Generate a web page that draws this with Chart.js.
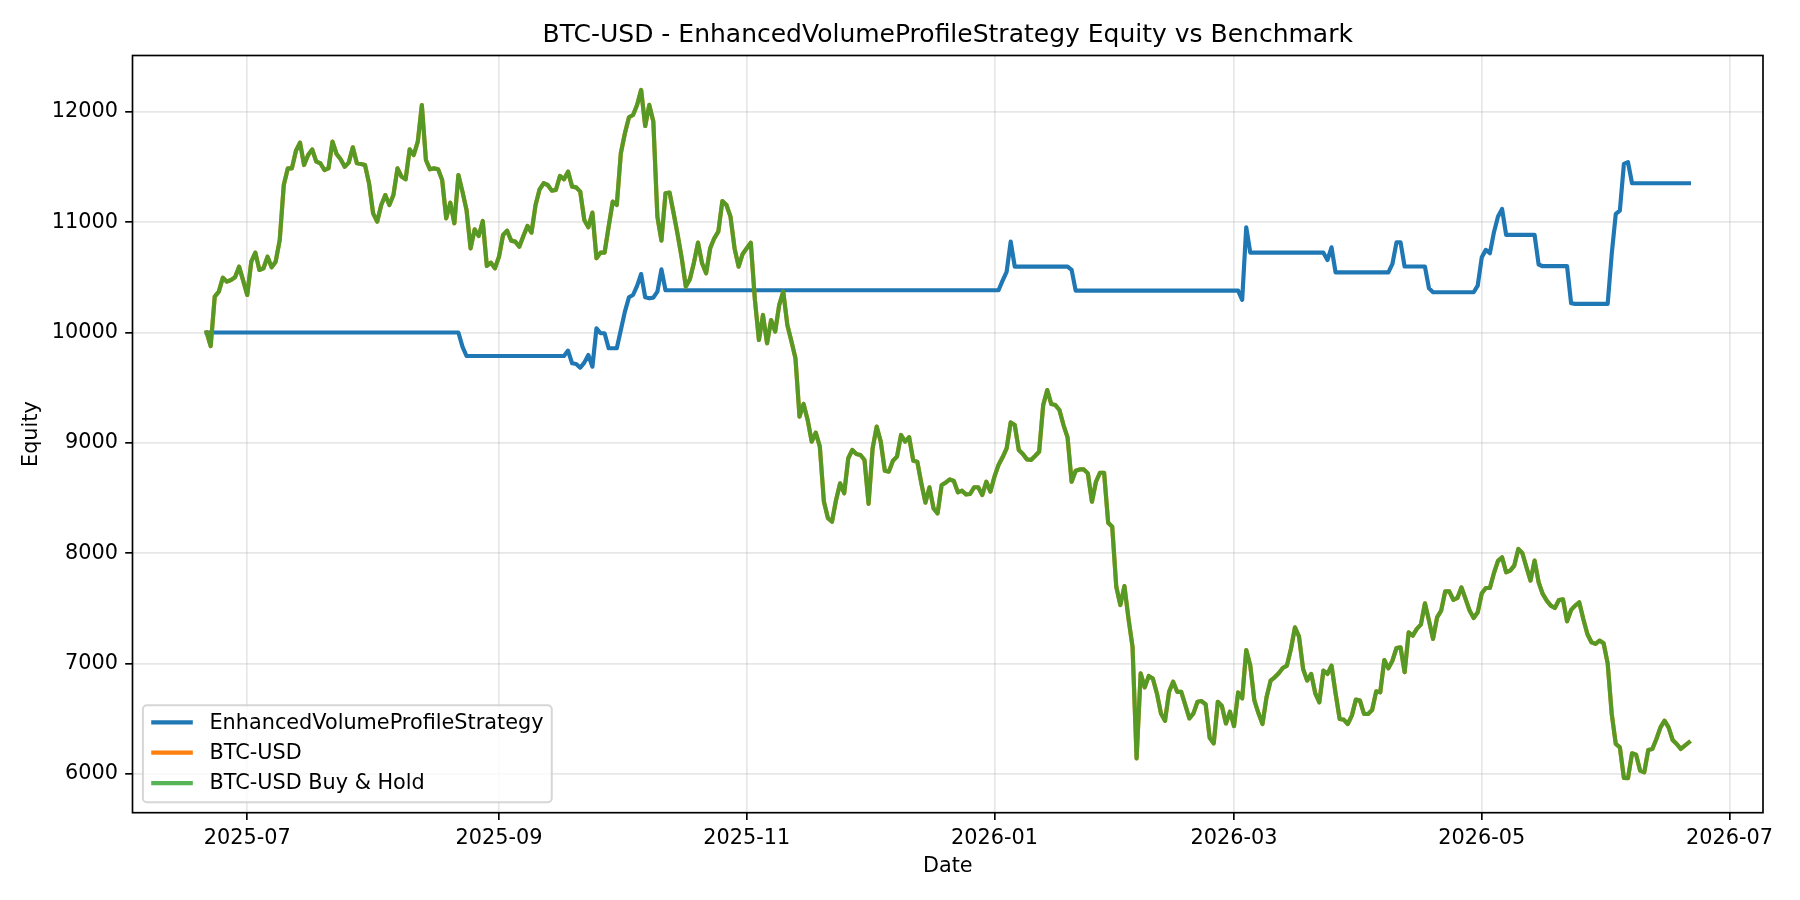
<!DOCTYPE html>
<html>
<head>
<meta charset="utf-8">
<script src="https://cdn.jsdelivr.net/npm/chart.js@4.4.1/dist/chart.umd.min.js"></script>
<style>
  html, body { margin: 0; padding: 0; background: #ffffff; overflow: hidden; }
  canvas { display: block; }
</style>
</head>
<body>
<canvas id="chart" width="1800" height="900"></canvas>
<script>
// ---------------- DATA (daily, first day = startDate) ----------------
const startDate = '2025-06-21';

const seriesNames = ['EnhancedVolumeProfileStrategy', 'BTC-USD', 'BTC-USD Buy & Hold'];

const strategyEquity = [
  10000,10000,10000,10000,10000,10000,10000,10000,10000,10000,
  10000,10000,10000,10000,10000,10000,10000,10000,10000,10000,
  10000,10000,10000,10000,10000,10000,10000,10000,10000,10000,
  10000,10000,10000,10000,10000,10000,10000,10000,10000,10000,
  10000,10000,10000,10000,10000,10000,10000,10000,10000,10000,
  10000,10000,10000,10000,10000,10000,10000,10000,10000,10000,
  10000,10000,10000,9872,9787,9787,9787,9787,9787,9787,
  9787,9787,9787,9787,9787,9787,9787,9787,9787,9787,
  9787,9787,9787,9787,9787,9787,9787,9787,9787,9836,
  9721,9715,9681,9727,9796,9690,10038,9993,9993,9857,
  9857,9857,10023,10189,10319,10340,10422,10530,10319,10310,
  10316,10370,10573,10383,10383,10383,10383,10383,10383,10383,
  10383,10383,10383,10383,10383,10383,10383,10383,10383,10383,
  10383,10383,10383,10383,10383,10383,10383,10383,10383,10383,
  10383,10383,10383,10383,10383,10383,10383,10383,10383,10383,
  10383,10383,10383,10383,10383,10383,10383,10383,10383,10383,
  10383,10383,10383,10383,10383,10383,10383,10383,10383,10383,
  10383,10383,10383,10383,10383,10383,10383,10383,10383,10383,
  10383,10383,10383,10383,10383,10383,10383,10383,10383,10383,
  10383,10383,10383,10383,10383,10383,10470,10550,10824,10597,
  10597,10597,10597,10597,10597,10597,10597,10597,10597,10597,
  10597,10597,10597,10567,10380,10380,10380,10380,10380,10380,
  10380,10380,10380,10380,10380,10380,10380,10380,10380,10380,
  10380,10380,10380,10380,10380,10380,10380,10380,10380,10380,
  10380,10380,10380,10380,10380,10380,10380,10380,10380,10380,
  10380,10380,10380,10380,10380,10295,10954,10724,10724,10724,
  10724,10724,10724,10724,10724,10724,10724,10724,10724,10724,
  10724,10724,10724,10724,10724,10724,10657,10772,10545,10545,
  10545,10545,10545,10545,10545,10545,10545,10545,10545,10545,
  10545,10545,10622,10818,10818,10598,10598,10598,10598,10598,
  10598,10401,10365,10365,10365,10365,10365,10365,10365,10365,
  10365,10365,10365,10425,10682,10749,10719,10909,11051,11120,
  10885,10885,10885,10885,10885,10885,10885,10885,10616,10601,
  10601,10601,10601,10601,10601,10601,10265,10259,10259,10259,
  10259,10259,10259,10259,10259,10259,10713,11075,11105,11528,
  11544,11353,11353,11353,11353,11353,11353,11353,11353,11353,
  11353,11353,11353,11353,11353,11353
];

const buyHoldEquity = [
  10000,9877,10325,10370,10497,10461,10476,10500,10597,10470,
  10340,10642,10724,10567,10582,10687,10591,10642,10838,11337,
  11488,11488,11648,11721,11518,11609,11660,11549,11534,11473,
  11488,11730,11618,11570,11503,11540,11679,11534,11528,11518,
  11352,11080,11005,11156,11246,11156,11246,11488,11413,11388,
  11660,11609,11730,12062,11564,11479,11488,11479,11382,11035,
  11177,10990,11428,11277,11111,10763,10935,10875,11011,10603,
  10633,10582,10688,10884,10923,10833,10824,10778,10875,10966,
  10905,11156,11298,11353,11337,11286,11292,11419,11389,11458,
  11322,11316,11277,11020,10954,11087,10673,10724,10724,10960,
  11186,11156,11625,11806,11951,11972,12063,12199,11872,12063,
  11912,11050,10833,11262,11268,11081,10884,10673,10416,10482,
  10633,10815,10627,10537,10763,10854,10914,11192,11156,11050,
  10763,10597,10712,10763,10815,10300,9932,10159,9902,10113,
  10008,10250,10370,10068,9920,9766,9237,9352,9207,9011,
  9092,8965,8467,8316,8285,8482,8633,8542,8860,8935,
  8899,8890,8844,8446,8950,9147,9011,8748,8739,8838,
  8875,9071,9011,9050,8838,8829,8633,8458,8597,8406,
  8361,8618,8639,8669,8654,8551,8566,8533,8536,8597,
  8597,8527,8648,8557,8693,8799,8869,8950,9185,9161,
  8934,8898,8850,8844,8880,8919,9342,9478,9351,9342,
  9297,9161,9049,8647,8747,8759,8759,8723,8466,8647,
  8729,8729,8276,8239,7695,7529,7701,7408,7151,6139,
  6910,6783,6886,6864,6728,6547,6480,6743,6834,6743,
  6743,6623,6502,6547,6653,6659,6629,6327,6275,6653,
  6614,6456,6562,6432,6737,6683,7121,6980,6665,6550,
  6451,6693,6844,6874,6911,6959,6980,7131,7328,7243,
  6950,6844,6905,6729,6648,6935,6905,6980,6729,6497,
  6491,6451,6527,6672,6663,6542,6542,6578,6747,6738,
  7031,6956,7025,7140,7146,6920,7282,7252,7313,7352,
  7545,7388,7222,7418,7479,7654,7654,7576,7594,7690,
  7585,7479,7412,7464,7636,7684,7684,7820,7930,7962,
  7826,7841,7887,8038,7999,7872,7751,7932,7736,7630,
  7569,7524,7503,7575,7581,7382,7485,7524,7554,7403,
  7267,7192,7177,7207,7183,7001,6542,6270,6240,5962,
  5959,6185,6173,6028,6013,6216,6225,6315,6421,6481,
  6421,6306,6270,6225,6255,6285
];

// BTC-USD benchmark coincides exactly with the buy & hold curve in the picture
const btcUsdEquity = buyHoldEquity.slice();

const xTickLabels = ['2025-07', '2025-09', '2025-11', '2026-01', '2026-03', '2026-05', '2026-07'];
const yTickValues = [6000, 7000, 8000, 9000, 10000, 11000, 12000];

// ---------------- helpers ----------------
const DAY = 86400000;
const t0 = Date.parse(startDate + 'T00:00:00Z');
const xTickDays = xTickLabels.map(m => (Date.parse(m + '-01T00:00:00Z') - t0) / DAY);
const toPoints = arr => arr.map((v, i) => ({ x: i, y: v }));

const nDays = buyHoldEquity.length - 1;
const xMin = -0.05 * nDays, xMax = nDays * 1.05;
const allVals = strategyEquity.concat(buyHoldEquity, btcUsdEquity);
const dMin = Math.min(...allVals), dMax = Math.max(...allVals);
const yMin = dMin - 0.05 * (dMax - dMin), yMax = dMax + 0.05 * (dMax - dMin);

const FONT = "'DejaVu Sans', 'Liberation Sans', sans-serif";
const FS = 20.8;
const LW = 4.17;

Chart.defaults.font.family = FONT;
Chart.defaults.color = '#000000';

const framePlugin = {
  id: 'mplFrame',
  afterDatasetsDraw(chart) {
    const { ctx, chartArea: a } = chart;
    ctx.save();
    ctx.strokeStyle = '#000000';
    ctx.lineWidth = 1.67;
    ctx.strokeRect(a.left, a.top, a.right - a.left, a.bottom - a.top);
    ctx.restore();
  },
  afterDraw(chart) {
    const { ctx, chartArea: a } = chart;
    const items = chart.data.datasets.map(ds => ({ text: ds.label, color: ds.borderColor, w: ds.borderWidth }));
    ctx.save();
    ctx.font = FS + 'px ' + FONT;
    const maxW = Math.max(...items.map(it => ctx.measureText(it.text).width));
    const pad = 0.4 * FS, handleLen = 2 * FS, gap = 0.8 * FS;
    const x0 = a.left + 0.5 * FS;
    const h = 97;
    const y1 = a.bottom - 0.5 * FS;
    const y0 = y1 - h;
    const w = pad + handleLen + gap + maxW + pad;
    const r = 4;
    ctx.beginPath();
    ctx.moveTo(x0 + r, y0);
    ctx.lineTo(x0 + w - r, y0);
    ctx.arcTo(x0 + w, y0, x0 + w, y0 + r, r);
    ctx.lineTo(x0 + w, y1 - r);
    ctx.arcTo(x0 + w, y1, x0 + w - r, y1, r);
    ctx.lineTo(x0 + r, y1);
    ctx.arcTo(x0, y1, x0, y1 - r, r);
    ctx.lineTo(x0, y0 + r);
    ctx.arcTo(x0, y0, x0 + r, y0, r);
    ctx.closePath();
    ctx.fillStyle = 'rgba(255,255,255,0.8)';
    ctx.fill();
    ctx.strokeStyle = 'rgba(204,204,204,0.8)';
    ctx.lineWidth = 2;
    ctx.stroke();
    items.forEach((it, i) => {
      const cy = y0 + 17 + i * 30.4;
      ctx.beginPath();
      ctx.moveTo(x0 + pad, cy);
      ctx.lineTo(x0 + pad + handleLen, cy);
      ctx.strokeStyle = it.color;
      ctx.lineWidth = it.w;
      ctx.lineCap = 'butt';
      ctx.stroke();
      ctx.fillStyle = '#000000';
      ctx.textBaseline = 'middle';
      ctx.textAlign = 'left';
      ctx.fillText(it.text, x0 + pad + handleLen + gap, cy + 1);
    });
    ctx.restore();
  }
};

const gridCommon = {
  color: 'rgba(176,176,176,0.3)',
  lineWidth: 1.67,
  drawTicks: true,
  tickLength: 7.3,
  tickColor: '#000000',
  tickWidth: 1.67
};

new Chart(document.getElementById('chart'), {
  type: 'line',
  data: {
    datasets: [
      { label: seriesNames[0], data: toPoints(strategyEquity), borderColor: '#1f77b4', order: 3 },
      { label: seriesNames[1], data: toPoints(btcUsdEquity), borderColor: '#ff7f0e', order: 2 },
      { label: seriesNames[2], data: toPoints(buyHoldEquity), borderColor: 'rgba(44,160,44,0.8)', order: 1 }
    ].map(d => Object.assign(d, {
      borderWidth: LW, pointRadius: 0, pointHoverRadius: 0, tension: 0,
      fill: false, borderJoinStyle: 'round', borderCapStyle: 'square'
    }))
  },
  options: {
    responsive: false,
    devicePixelRatio: 1,
    animation: false,
    events: [],
    layout: { padding: { left: 0, right: 37, top: 0, bottom: 0 } },
    plugins: {
      legend: { display: false },
      tooltip: { enabled: false },
      title: {
        display: true,
        text: 'BTC-USD - EnhancedVolumeProfileStrategy Equity vs Benchmark',
        font: { size: 25, weight: 'normal', family: FONT },
        color: '#000000',
        padding: { top: 20.5, bottom: 5 },
        fullSize: false
      }
    },
    scales: {
      x: {
        type: 'linear',
        min: xMin,
        max: xMax,
        afterBuildTicks: s => { s.ticks = xTickDays.map(v => ({ value: v })); },
        afterFit: s => { s.height = 87.3; s.paddingLeft = 0; s.paddingRight = 0; },
        ticks: {
          autoSkip: false, maxRotation: 0, minRotation: 0, padding: 6.5,
          font: { size: FS, family: FONT }, color: '#000000',
          callback: v => { const i = xTickDays.indexOf(v); return i >= 0 ? xTickLabels[i] : ''; }
        },
        grid: gridCommon,
        border: { display: false },
        title: { display: true, text: 'Date', font: { size: FS, family: FONT }, color: '#000000', padding: { top: 0, bottom: 21 } }
      },
      y: {
        type: 'linear',
        min: yMin,
        max: yMax,
        afterBuildTicks: s => { s.ticks = yTickValues.map(v => ({ value: v })); },
        afterFit: s => { s.width = 132.5; s.paddingTop = 0; s.paddingBottom = 0; },
        ticks: {
          padding: 7.3,
          font: { size: FS, family: FONT }, color: '#000000',
          callback: v => String(v)
        },
        grid: gridCommon,
        border: { display: false },
        title: { display: true, text: 'Equity', font: { size: FS, family: FONT }, color: '#000000', padding: { top: 19.5, bottom: 0 } }
      }
    }
  },
  plugins: [framePlugin]
});
</script>
</body>
</html>
